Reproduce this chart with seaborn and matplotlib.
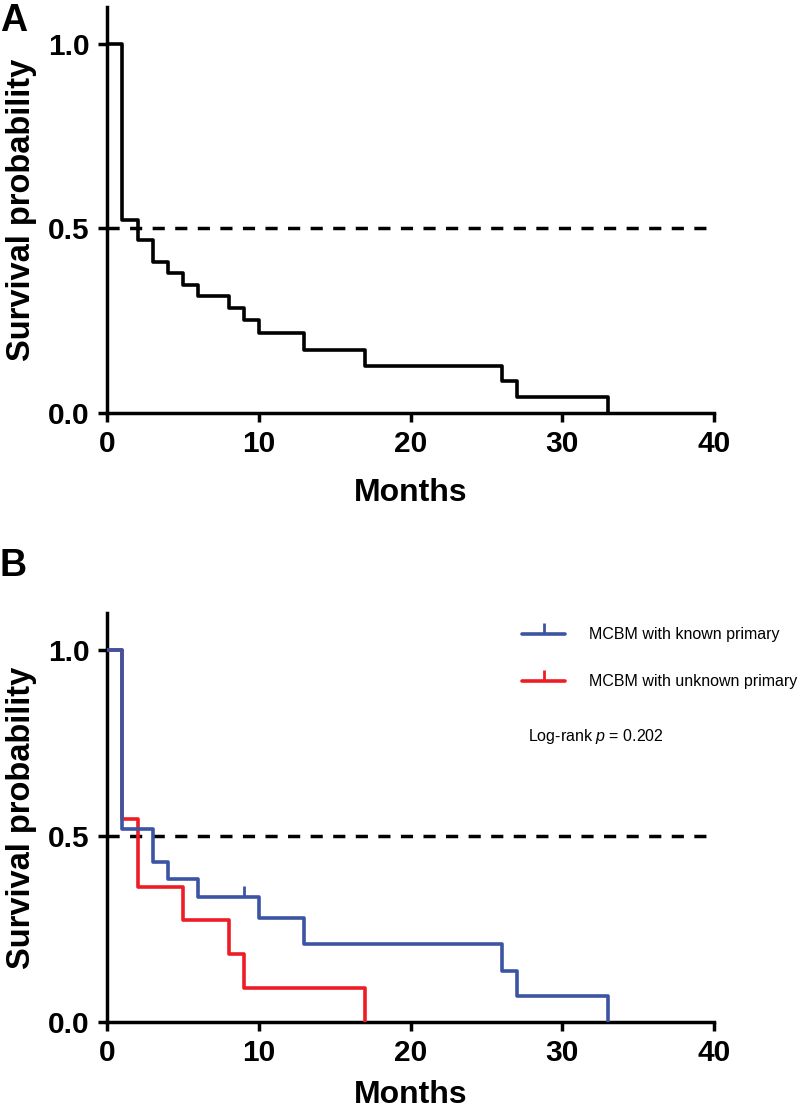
import matplotlib
matplotlib.use("Agg")
import matplotlib.pyplot as plt
from matplotlib.lines import Line2D
import seaborn as sns
import pandas as pd

# ---------------- data ----------------
# Panel A: overall Kaplan-Meier curve
times_all = [0, 1, 2, 3, 4, 5, 6, 8, 9, 10, 13, 17, 26, 27, 33]
surv_all = [1.0, 0.524, 0.470, 0.409, 0.378, 0.346, 0.316, 0.284, 0.251,
            0.218, 0.171, 0.128, 0.087, 0.042, 0.0]

# Panel B: by primary status
times_known = [0, 1, 3, 4, 6, 10, 13, 26, 27, 33]
surv_known = [1.0, 0.518, 0.430, 0.384, 0.336, 0.279, 0.210, 0.138, 0.069, 0.0]
censor_known_t = [9]
censor_known_s = [0.336]

times_unknown = [0, 1, 2, 5, 8, 9, 17]
surv_unknown = [1.0, 0.545, 0.364, 0.273, 0.182, 0.091, 0.0]

group_labels = ["MCBM with known primary", "MCBM with unknown primary"]
p_text = "Log-rank $\\it{p}$ = 0.202"
x_ticks = [0, 10, 20, 30, 40]
y_ticks = [0.0, 0.5, 1.0]

# ---------------- style ----------------
sns.set_style("ticks")
plt.rcParams["font.family"] = ["Liberation Sans", "DejaVu Sans"]
plt.rcParams["mathtext.fontset"] = "custom"
plt.rcParams["mathtext.rm"] = "Liberation Sans"
plt.rcParams["mathtext.it"] = "Liberation Sans:italic"
for k in ["text.color", "axes.labelcolor", "xtick.color", "ytick.color",
          "axes.edgecolor"]:
    plt.rcParams[k] = "black"

BLUE = "#3b54a4"
RED = "#ee1c25"
LW = 2.6
SPW = 2.5

fig = plt.figure(figsize=(8.0, 11.14), dpi=100)
axA = fig.add_axes([0.134, 0.6293, 0.7585, 0.3644])
axB = fig.add_axes([0.134, 0.0826, 0.7585, 0.3671])


def style_axis(ax, xlabelpad):
    ax.set_xlim(0, 40)
    ax.set_ylim(0, 1.1)
    ax.set_xticks(x_ticks)
    ax.set_yticks(y_ticks)
    ax.set_yticklabels([f"{v:.1f}" for v in y_ticks])
    for s in ["top", "right"]:
        ax.spines[s].set_visible(False)
    for s in ["left", "bottom"]:
        ax.spines[s].set_linewidth(SPW)
        ax.spines[s].set_color("black")
    ax.tick_params(axis="both", direction="out", length=6.5, width=SPW,
                   labelsize=21.5, pad=6, colors="black")
    for lab in ax.get_xticklabels() + ax.get_yticklabels():
        lab.set_fontweight("bold")
    ax.set_xlabel("Months", fontsize=23, fontweight="bold", labelpad=xlabelpad)
    ax.set_ylabel("Survival probability", fontsize=23.5, fontweight="bold",
                  labelpad=8)
    ax.axhline(0.5, xmin=0, xmax=1, color="black", lw=SPW, ls=(0, (3.5, 3)),
               zorder=1)


# Panel A
dfA = pd.DataFrame({"t": times_all, "s": surv_all})
sns.lineplot(data=dfA, x="t", y="s", ax=axA, color="black", lw=LW,
             drawstyle="steps-post", estimator=None, sort=False, zorder=3)
style_axis(axA, 14)

# Panel B
dfU = pd.DataFrame({"t": times_unknown, "s": surv_unknown})
dfK = pd.DataFrame({"t": times_known, "s": surv_known})
sns.lineplot(data=dfU, x="t", y="s", ax=axB, color=RED, lw=LW,
             drawstyle="steps-post", estimator=None, sort=False, zorder=3)
sns.lineplot(data=dfK, x="t", y="s", ax=axB, color=BLUE, lw=LW,
             drawstyle="steps-post", estimator=None, sort=False, zorder=4)
axB.plot(censor_known_t, censor_known_s, ls="none", marker=2, ms=8,
         mew=2.0, color=BLUE, zorder=4)
style_axis(axB, 9)

handles = [
    Line2D([], [], color=BLUE, lw=LW, marker=2, ms=8, mew=2.0),
    Line2D([], [], color=RED, lw=LW, marker=2, ms=8, mew=2.0),
]
leg = axB.legend(handles, group_labels, loc="upper left",
                 bbox_to_anchor=(0.66, 1.0), frameon=False, fontsize=11.5,
                 handlelength=2.7, handletextpad=1.5, labelspacing=2.0,
                 numpoints=1)
fig.text(0.66, 1 - 737 / 1114, p_text, fontsize=11.5, va="center", ha="left")

fig.text(0.0, 0.997, "A", fontsize=27, fontweight="bold", va="top", ha="left")
fig.text(0.0, 1 - 548 / 1114, "B", fontsize=27, fontweight="bold", va="top",
         ha="left")

fig.savefig("out.png", dpi=100)
